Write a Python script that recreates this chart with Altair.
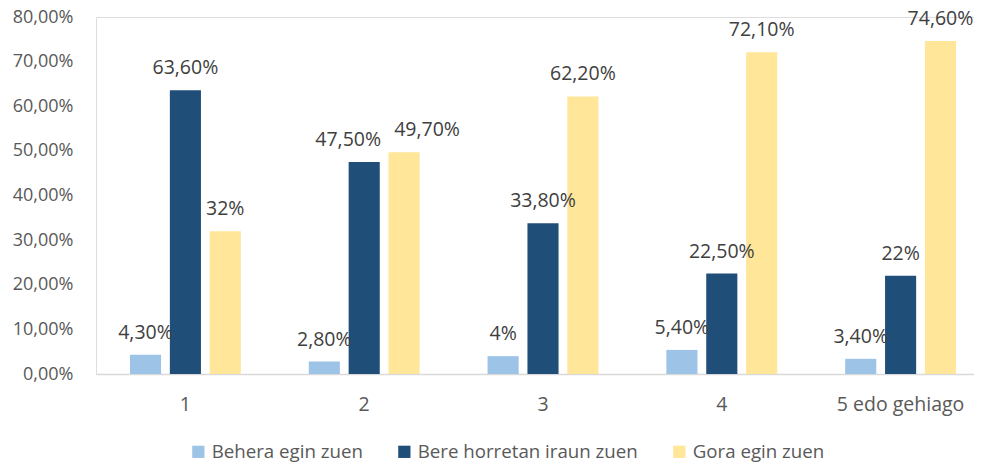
import altair as alt
import pandas as pd

categories = ["1", "2", "3", "4", "5 edo gehiago"]
series = ["Behera egin zuen", "Bere horretan iraun zuen", "Gora egin zuen"]
behera = [4.3, 2.8, 4.0, 5.4, 3.4]
bere = [63.6, 47.5, 33.8, 22.5, 22.0]
gora = [32.0, 49.7, 62.2, 72.1, 74.6]
behera_lbl = ["4,30%", "2,80%", "4%", "5,40%", "3,40%"]
bere_lbl = ["63,60%", "47,50%", "33,80%", "22,50%", "22%"]
gora_lbl = ["32%", "49,70%", "62,20%", "72,10%", "74,60%"]
colors = ["#9DC3E6", "#1F4E79", "#FFE699"]
y_ticks = [0, 10, 20, 30, 40, 50, 60, 70, 80]

rows = []
for vals, lbls, s in [(behera, behera_lbl, series[0]), (bere, bere_lbl, series[1]), (gora, gora_lbl, series[2])]:
    for c, v, l in zip(categories, vals, lbls):
        rows.append({"cat": c, "series": s, "value": v, "label": l})
df = pd.DataFrame(rows)

FONT = "Open Sans"

x = alt.X("cat:N", sort=categories, title=None,
          scale=alt.Scale(range=[0, 894], paddingInner=0.38, paddingOuter=0.19),
          axis=alt.Axis(labelAngle=0, ticks=False, domainColor="#D9D9D9", domainWidth=1.5,
                        labelFont=FONT, labelFontSize=19.5, labelColor="#595959", labelPadding=21))
xo = alt.XOffset("series:N", sort=series, scale=alt.Scale(paddingInner=0.22, paddingOuter=0))
y = alt.Y("value:Q", title=None,
          scale=alt.Scale(domain=[0, 80], nice=False),
          axis=alt.Axis(values=y_ticks, grid=False, ticks=False, domain=False,
                        labelFont=FONT, labelFontSize=18, labelColor="#595959", labelPadding=23,
                        labelExpr="replace(format(datum.value, '.2f'), '.', ',') + '%'"))

base = alt.Chart(df)

bars = base.mark_bar().encode(
    x=x, xOffset=xo, y=y,
    color=alt.Color("series:N", sort=series, title=None,
                    scale=alt.Scale(domain=series, range=colors),
                    legend=alt.Legend(orient="none", direction="horizontal", legendX=93, legendY=425,
                                      symbolType="square", symbolSize=150, symbolStrokeWidth=0,
                                      labelFont=FONT, labelFontSize=18.7, labelColor="#595959",
                                      labelLimit=0, columnPadding=32, labelOffset=4)),
)

text_kw = dict(baseline="bottom", dy=-12, font=FONT, fontSize=19.5, color="#404040")
is_g2_mid = (alt.datum.cat == "2") & (alt.datum.series == series[1])
is_g2_top = (alt.datum.cat == "2") & (alt.datum.series == series[2])

text = base.mark_text(**text_kw).encode(x=x, xOffset=xo, y=y, text="label:N").transform_filter(
    ~(is_g2_mid | is_g2_top))
text_mid = base.mark_text(dx=-16, **text_kw).encode(x=x, xOffset=xo, y=y, text="label:N").transform_filter(is_g2_mid)
text_top = base.mark_text(dx=23, **text_kw).encode(x=x, xOffset=xo, y=y, text="label:N").transform_filter(is_g2_top)

chart = (bars + text + text_mid + text_top).properties(
    width=878, height=357,
    autosize=alt.AutoSizeParams(type="none"),
    padding={"left": 88, "top": 9, "right": 0, "bottom": 88},
).configure_view(stroke=None).configure(background="white")

chart.save("out.html", embed_options={"renderer": "svg", "actions": False})
